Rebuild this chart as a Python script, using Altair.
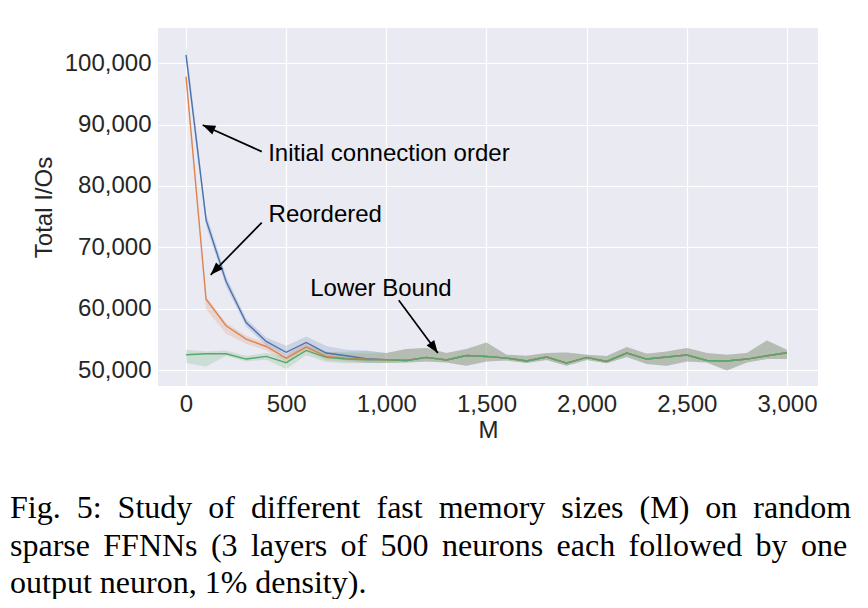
import altair as alt
import pandas as pd

# ---------------- data ----------------
M = [0, 100, 200, 300, 400, 500, 600, 700, 800, 900,
     1000, 1100, 1200, 1300, 1400, 1500, 1600, 1700, 1800, 1900,
     2000, 2100, 2200, 2300, 2400, 2500, 2600, 2700, 2800, 2900, 3000]

initial_mean = [101350, 74480, 64430, 57750, 54660, 52900, 54500, 52770, 52330, 51840,
                51700, 51560, 52060, 51630, 52380, 52220, 51950, 51470, 52120, 51140,
                52060, 51400, 52770, 51790, 52120, 52440, 51560, 51470, 51790, 52330, 52820]
initial_lo = [100300, 73500, 63600, 57100, 54000, 52300, 53600, 52000, 51600, 51200,
              51140, 51240, 51400, 51240, 50700, 51400, 51560, 51140, 51630, 50700,
              51630, 51100, 52120, 50970, 50700, 51400, 51240, 49940, 51240, 51790, 51790]
initial_hi = [103000, 75500, 65300, 58400, 55300, 53960, 55470, 53900, 53300, 53200,
              52770, 53420, 53580, 52770, 53420, 54500, 52490, 52330, 52770, 52870,
              52490, 52300, 53750, 52650, 53030, 53580, 52770, 52490, 52770, 54820, 53310]

reordered_mean = [97820, 61560, 57220, 55050, 53840, 51950, 53750, 52220, 51950, 51750,
                  51690, 51550, 52060, 51630, 52380, 52220, 51950, 51470, 52120, 51140,
                  52060, 51400, 52770, 51790, 52120, 52440, 51560, 51470, 51790, 52330, 52820]
reordered_lo = [97200, 59900, 55900, 54300, 53200, 51400, 53000, 51600, 51300, 51200,
                51140, 51240, 51400, 51240, 50700, 51400, 51560, 51140, 51630, 50700,
                51630, 51100, 52120, 50970, 50700, 51400, 51240, 49940, 51240, 51790, 51790]
reordered_hi = [98500, 62000, 57660, 55600, 54400, 52500, 54600, 53000, 52700, 52700,
                52770, 53420, 53580, 52770, 53420, 54500, 52490, 52330, 52770, 52870,
                52490, 52300, 53750, 52650, 53030, 53580, 52770, 52490, 52770, 54820, 53310]

lower_mean = [52490, 52650, 52650, 51790, 52220, 51200, 53200, 52060, 51790, 51680,
              51680, 51550, 52060, 51630, 52380, 52220, 51950, 51470, 52120, 51140,
              52060, 51400, 52770, 51790, 52120, 52440, 51560, 51470, 51790, 52330, 52820]
lower_lo = [51140, 50590, 52330, 51400, 51680, 50160, 52400, 51300, 51100, 51140,
            51140, 51240, 51400, 51240, 50700, 51400, 51560, 51140, 51630, 50700,
            51630, 51100, 52120, 50970, 50700, 51400, 51240, 49940, 51240, 51790, 51790]
lower_hi = [53310, 53030, 53200, 52300, 52770, 52220, 54000, 52900, 53000, 53100,
            52770, 53420, 53580, 52770, 53420, 54500, 52490, 52330, 52770, 52870,
            52490, 52300, 53750, 52650, 53030, 53580, 52770, 52490, 52770, 54820, 53310]

series_names = ["Initial connection order", "Reordered", "Lower Bound"]
series_colors = ["#4C72B0", "#DD8452", "#55A868"]

x_ticks = [0, 500, 1000, 1500, 2000, 2500, 3000]
y_ticks = [50000, 60000, 70000, 80000, 90000, 100000]

# annotations (data coordinates)
ann_text = ["Initial connection order", "Reordered", "Lower Bound"]
ann_text_x = [410, 412, 620]
ann_text_y = [84140, 74200, 62100]
arrow_tail_x = [378, 378, 1062]
arrow_tail_y = [85600, 74040, 61380]
arrow_head_x = [83, 123, 1257]
arrow_head_y = [89950, 65520, 52770]
arrow_angle = [294, 224, 144]

caption_words = [
    ["Fig.", "5:", "Study", "of", "different", "fast", "memory", "sizes", "(M)", "on", "random"],
    ["sparse", "FFNNs", "(3", "layers", "of", "500", "neurons", "each", "followed", "by", "one"],
    ["output", "neuron,", "1%", "density)."],
]
# word gaps: justified lines get wider gaps (non-collapsing spaces)
caption_gaps = ["\u00a0\u00a0", "\u00a0\u2006", " "]
caption_lines = [gap.join(words) for words, gap in zip(caption_words, caption_gaps)]

# ---------------- build tables ----------------
rows = []
for name, mean, lo, hi in zip(series_names,
                              [initial_mean, reordered_mean, lower_mean],
                              [initial_lo, reordered_lo, lower_lo],
                              [initial_hi, reordered_hi, lower_hi]):
    for i, m in enumerate(M):
        rows.append({"M": m, "series": name, "mean": mean[i], "lo": lo[i], "hi": hi[i]})
df = pd.DataFrame(rows)

ann_df = pd.DataFrame({"text": ann_text, "x": ann_text_x, "y": ann_text_y})
arrow_df = pd.DataFrame({"x1": arrow_tail_x, "y1": arrow_tail_y,
                         "x2": arrow_head_x, "y2": arrow_head_y, "angle": arrow_angle})

FONT = "Liberation Sans"
xscale = alt.Scale(domain=[-140, 3155], nice=False, zero=False)
yscale = alt.Scale(domain=[47400, 105750], nice=False, zero=False)
color = alt.Color("series:N", scale=alt.Scale(domain=series_names, range=series_colors), legend=None)

xaxis = alt.Axis(values=x_ticks, format=",d", title="M", grid=True)
yaxis = alt.Axis(values=y_ticks, format=",d", title="Total I/Os", grid=True)

base = alt.Chart(df)

bands = base.mark_area(opacity=0.2).encode(
    x=alt.X("M:Q", scale=xscale, axis=xaxis),
    y=alt.Y("lo:Q", scale=yscale, axis=yaxis),
    y2="hi:Q",
    color=color,
    detail="series:N",
)

lines = base.mark_line(strokeWidth=1.4).encode(
    x=alt.X("M:Q", scale=xscale),
    y=alt.Y("mean:Q", scale=yscale),
    color=color,
    order="M:Q",
)

arrow_lines = alt.Chart(arrow_df).mark_rule(color="black", strokeWidth=1.7).encode(
    x=alt.X("x1:Q", scale=xscale), y=alt.Y("y1:Q", scale=yscale),
    x2="x2:Q", y2="y2:Q",
)

arrow_heads = alt.Chart(arrow_df).mark_point(
    shape="M0,0 L-0.75,2 L0.75,2 Z", filled=True, color="black", opacity=1, size=160
).encode(
    x=alt.X("x2:Q", scale=xscale), y=alt.Y("y2:Q", scale=yscale),
    angle=alt.Angle("angle:Q", scale=None),
)

texts = alt.Chart(ann_df).mark_text(
    align="left", baseline="alphabetic", font=FONT, fontSize=24, color="black"
).encode(
    x=alt.X("x:Q", scale=xscale), y=alt.Y("y:Q", scale=yscale), text="text:N"
)

chart = alt.layer(bands, lines, arrow_lines, arrow_heads, texts).properties(
    width=660,
    height=358,
    autosize="none",
    padding={"left": 150, "top": 20, "right": 40, "bottom": 213},
    title=alt.TitleParams(
        text=caption_lines,
        orient="bottom",
        anchor="start",
        frame="group",
        dx=-148,
        offset=51,
        font="Liberation Serif",
        fontSize=32,
        fontWeight="normal",
        color="black",
        lineHeight=37.5,
    ),
).configure_view(
    fill="#EAEAF2", stroke=None
).configure_axis(
    labelFont=FONT, titleFont=FONT, labelFontSize=24, titleFontSize=24,
    titleFontWeight="normal", labelColor="#262626", titleColor="#262626",
    domain=False, ticks=False, tickSize=0, gridColor="white", gridWidth=1.2,
    gridOpacity=1,
).configure_axisX(
    labelPadding=6, titlePadding=2
).configure_axisY(
    labelPadding=7, titlePadding=8
)

chart.save("out.html", embed_options={"renderer": "svg", "actions": False})
